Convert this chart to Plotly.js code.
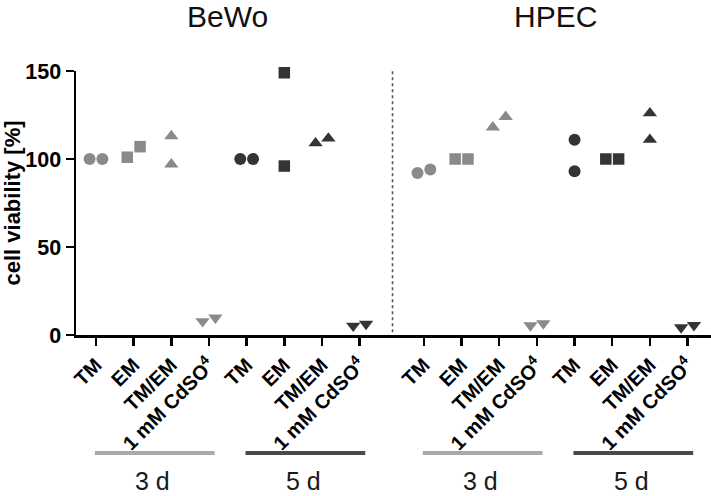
<!DOCTYPE html>
<html>
<head>
<meta charset="utf-8">
<script src="https://cdn.plot.ly/plotly-3.0.1.min.js"></script>
<style>html,body{margin:0;padding:0;background:#fff;}#chart{width:711px;height:496px;}</style>
</head>
<body>
<div id="chart"></div>
<script>
// ---- data ----
const cellLines = ['BeWo', 'HPEC'];
const timePoints = ['3 d', '5 d'];
const treatments = ['TM', 'EM', 'TM/EM', '1 mM CdSO<sup>4</sup>'];
// two replicate values per treatment (cell viability, %)
const bewo3d = [[100, 100], [101, 107], [113, 97], [7.8, 9.8]];
const bewo5d = [[100, 100], [149, 96], [109, 111.7], [5.2, 6.3]];
const hpec3d = [[92, 94], [100, 100], [118, 124], [5.4, 6.6]];
const hpec5d = [[111, 93], [100, 100], [126, 111], [4.3, 5.6]];
const yTicks = [0, 50, 100, 150];

// ---- layout helpers ----
const FONT = 'Arial, "Liberation Sans", sans-serif';
const groups = [[bewo3d, bewo5d], [hpec3d, hpec5d]];
const groupGap = 1.707;          // spacing between BeWo and HPEC panels (in category units)
const symbols = ['circle', 'square', 'triangle-up', 'triangle-down'];
const symSizes = [12, 11.5, 12.5, 12.5];
const timeColors = ['#8a8a8a', '#343434'];
const barColors = ['#a9a9a9', '#4a4a4a'];
const perPanel = treatments.length * timePoints.length;

const traces = [];
const tickvals = [], ticktext = [];
const shapes = [], annotations = [];

groups.forEach((panel, p) => {
  const base = p * (perPanel - 1 + groupGap);
  panel.forEach((series, t) => {
    series.forEach((pair, c) => {
      const xc = base + t * treatments.length + c;
      tickvals.push(xc);
      ticktext.push(treatments[c]);
      const spread = Math.abs(pair[0] - pair[1]) < 8 ? 0.17 : 0;
      traces.push({
        type: 'scatter', mode: 'markers',
        x: [xc - spread, xc + spread],
        y: pair,
        marker: {symbol: symbols[c], size: symSizes[c], color: timeColors[t], line: {width: 0}},
        showlegend: false, hoverinfo: 'y', cliponaxis: false
      });
    });
    const x0 = base + t * treatments.length;
    shapes.push({type: 'line', xref: 'x', yref: 'paper', x0: x0 - 0.03, x1: x0 + 3.15,
      y0: -0.447, y1: -0.447, line: {color: barColors[t], width: 4}});
    annotations.push({xref: 'x', yref: 'paper', x: x0 + 1.5, y: -0.553, text: timePoints[t],
      showarrow: false, xanchor: 'center', yanchor: 'middle',
      font: {family: FONT, size: 25, color: '#1a1a1a'}});
  });
  annotations.push({xref: 'x', yref: 'paper', x: base + 3.5, y: 1.205, text: cellLines[p],
    showarrow: false, xanchor: 'center', yanchor: 'middle',
    font: {family: FONT, size: 30, color: '#111'}});
});

// dotted separator
const sepX = (perPanel - 1) + groupGap / 2 + 0.02;
shapes.push({type: 'line', xref: 'x', yref: 'y', x0: sepX, x1: sepX, y0: 1.5, y1: 150,
  line: {color: '#555', width: 1.6, dash: 'dot'}});

const layout = {
  width: 711, height: 496,
  margin: {l: 76, r: 0, t: 71, b: 161, pad: 0},
  paper_bgcolor: '#fff', plot_bgcolor: '#fff',
  font: {family: FONT, color: '#000'},
  showlegend: false,
  xaxis: {
    range: [-0.531, 16.33], showgrid: false, zeroline: false,
    showline: true, linecolor: '#000', linewidth: 2.5,
    ticks: 'outside', ticklen: 8, tickwidth: 2.5, tickcolor: '#000',
    tickvals: tickvals, ticktext: ticktext, tickangle: -45,
    tickfont: {family: FONT, size: 20, color: '#000', weight: 'bold'},
    fixedrange: true
  },
  yaxis: {
    range: [0, 150], showgrid: false, zeroline: false,
    showline: true, linecolor: '#000', linewidth: 2.5,
    ticks: 'outside', ticklen: 8, tickwidth: 2.5, tickcolor: '#000',
    tickvals: yTicks, ticktext: yTicks.map(String),
    tickfont: {family: FONT, size: 21.5, color: '#000', weight: 'bold'},
    title: {text: 'cell viability [%]', font: {family: FONT, size: 22, color: '#000', weight: 'bold'}, standoff: 7},
    fixedrange: true
  },
  shapes: shapes,
  annotations: annotations
};

Plotly.newPlot('chart', traces, layout, {staticPlot: true, displayModeBar: false});
</script>
</body>
</html>
